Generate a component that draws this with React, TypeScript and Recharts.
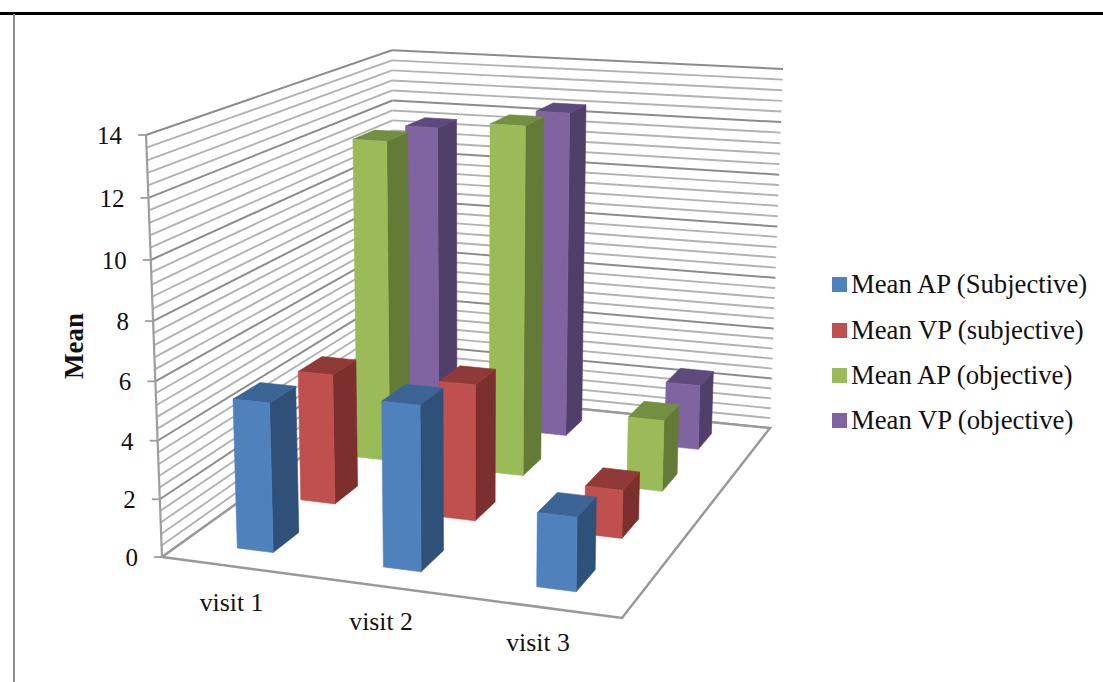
import React from 'react';
import { BarChart, Bar, XAxis, YAxis, Legend } from 'recharts';

const visits = ['visit 1', 'visit 2', 'visit 3'];
const meanApSubjective = [5.15, 5.6, 2.48];
const meanVpSubjective = [4.7, 4.85, 1.7];
const meanApObjective = [12.0, 12.85, 2.63];
const meanVpObjective = [11.65, 12.5, 2.5];
const yTicks = [0, 2, 4, 6, 8, 10, 12, 14];
const yMax = 14;
const minorStep = 0.4;

const rows = visits.map((visit, i) => ({
  visit,
  apSubjective: meanApSubjective[i],
  vpSubjective: meanVpSubjective[i],
  apObjective: meanApObjective[i],
  vpObjective: meanVpObjective[i],
}));

// Painted back to front, so the rows nearest the viewer cover the ones behind.
const seriesDefs = [
  { key: 'vpObjective', name: 'Mean VP (objective)', row: 3, front: '#8064A2', top: '#5F4A7C', side: '#513E69' },
  { key: 'apObjective', name: 'Mean AP (objective)', row: 2, front: '#9BBB59', top: '#748E42', side: '#647A37' },
  { key: 'vpSubjective', name: 'Mean VP (subjective)', row: 1, front: '#C0504D', top: '#8F3A38', side: '#7C2F2D' },
  { key: 'apSubjective', name: 'Mean AP (Subjective)', row: 0, front: '#4F81BD', top: '#3C6494', side: '#2F5179' },
];
const legendOrder = ['Mean AP (Subjective)', 'Mean VP (subjective)', 'Mean AP (objective)', 'Mean VP (objective)'];

const CHART_W = 1103;
const CHART_H = 682;
const PLOT_LEFT = 146;
const PLOT_TOP = 135;
const PLOT_BOTTOM = 557;
const PLOT_W = 600;
const PLOT_H = PLOT_BOTTOM - PLOT_TOP;
const BAR_SIZE = 50;
const ROW_COUNT = 4;
const ROW_FRONT = 0.0475;
const ROW_DEPTH = 0.1;
const FONT = '"Liberation Serif", serif';

// Floor corners of the box and the vanishing point of its vertical edges.
const floor = [
  [162, 557],
  [622, 618],
  [770, 428],
  [395, 390],
];
const vanish = [470, 8700];

const sx = floor[0][0] - floor[1][0] + floor[2][0] - floor[3][0];
const sy = floor[0][1] - floor[1][1] + floor[2][1] - floor[3][1];
const dx1 = floor[1][0] - floor[2][0];
const dx2 = floor[3][0] - floor[2][0];
const dy1 = floor[1][1] - floor[2][1];
const dy2 = floor[3][1] - floor[2][1];
const det = dx1 * dy2 - dx2 * dy1;
const g = (sx * dy2 - dx2 * sy) / det;
const h = (dx1 * sy - sx * dy1) / det;
const a = floor[1][0] - floor[0][0] + g * floor[1][0];
const b = floor[3][0] - floor[0][0] + h * floor[3][0];
const d = floor[1][1] - floor[0][1] + g * floor[1][1];
const e = floor[3][1] - floor[0][1] + h * floor[3][1];
const lift = (PLOT_TOP - floor[0][1]) / (vanish[1] - PLOT_TOP);

// u runs along the categories, v into the depth rows, w up the value axis (all 0..1).
function project(u: number, v: number, w: number): [number, number] {
  const s = g * u + h * v + 1 + w * lift;
  return [
    (a * u + b * v + floor[0][0] + w * lift * vanish[0]) / s,
    (d * u + e * v + floor[0][1] + w * lift * vanish[1]) / s,
  ];
}

const pts = (list: [number, number][]) => list.map((p) => `${p[0].toFixed(1)},${p[1].toFixed(1)}`).join(' ');

function line(p: [number, number], q: [number, number], stroke: string, width: number) {
  return <line x1={p[0]} y1={p[1]} x2={q[0]} y2={q[1]} stroke={stroke} strokeWidth={width} />;
}

function Walls() {
  const count = Math.round(yMax / minorStep);
  const levels = Array.from({ length: count + 1 }, (_, i) => i * minorStep);
  return (
    <g>
      {levels.map((val, i) => {
        const w = val / yMax;
        const major = i % 5 === 0;
        const stroke = major ? '#8C8C8C' : '#B2B2B2';
        const width = major ? 2 : 1.9;
        return (
          <g key={i}>
            {line(project(0, 0, w), project(0, 1, w), stroke, width)}
            {line(project(0, 1, w), project(1, 1, w), stroke, width)}
          </g>
        );
      })}
      <polygon points={pts([project(0, 0, 0), project(1, 0, 0), project(1, 1, 0), project(0, 1, 0)])} fill="#FFFFFF" stroke="#999999" strokeWidth={2.5} />
      {line(project(0, 0, 0), project(0, 0, 1), '#9E9E9E', 2.2)}
    </g>
  );
}

function Prism(props: any) {
  const { x, width, height, row, colors } = props;
  const u0 = (x - PLOT_LEFT) / PLOT_W;
  const u1 = (x + width - PLOT_LEFT) / PLOT_W;
  const w = height / PLOT_H;
  const v0 = (row + 0.5) / ROW_COUNT - ROW_FRONT;
  const v1 = v0 + ROW_DEPTH;
  return (
    <g strokeWidth={0.6} strokeLinejoin="round">
      <polygon points={pts([project(u1, v0, 0), project(u1, v1, 0), project(u1, v1, w), project(u1, v0, w)])} fill={colors.side} stroke={colors.side} />
      <polygon points={pts([project(u0, v0, w), project(u1, v0, w), project(u1, v1, w), project(u0, v1, w)])} fill={colors.top} stroke={colors.top} />
      <polygon points={pts([project(u0, v0, 0), project(u1, v0, 0), project(u1, v0, w), project(u0, v0, w)])} fill={colors.front} stroke={colors.front} />
    </g>
  );
}

function ValueTick(props: any) {
  const { y, payload } = props;
  const p = project(0, 0, (PLOT_BOTTOM - y) / PLOT_H);
  return (
    <g>
      {line([p[0] - 8, p[1]], p, '#9E9E9E', 1.8)}
      <text x={p[0] - 24} y={p[1] + 9} textAnchor="end" fontFamily={FONT} fontSize={25} fill="#111">
        {payload.value}
      </text>
    </g>
  );
}

function CategoryTick(props: any) {
  const { x, payload } = props;
  const p = project((x - PLOT_LEFT) / PLOT_W, 0, 0);
  return (
    <text x={p[0] - 2.5} y={p[1] + 44} textAnchor="middle" fontFamily={FONT} fontSize={25.8} fill="#111">
      {payload.value}
    </text>
  );
}

function LegendList(props: any) {
  const byName = new Map((props.payload || []).map((item: any) => [item.value, item]));
  return (
    <div>
      {legendOrder.map((name) => {
        const item: any = byName.get(name);
        return (
          <div key={name} style={{ height: 45.4, display: 'flex', alignItems: 'center', fontFamily: FONT, fontSize: 26.7, color: '#111', whiteSpace: 'nowrap' }}>
            <span style={{ width: 15, height: 15, background: item ? item.color : undefined, marginRight: 4, flex: 'none' }} />
            {name}
          </div>
        );
      })}
    </div>
  );
}

export default function App() {
  return (
    <div style={{ position: 'absolute', left: 0, top: 0, width: CHART_W, height: CHART_H, background: '#fff', overflow: 'hidden' }}>
      <div style={{ position: 'absolute', left: 0, top: 12, width: CHART_W, height: 2.5, background: '#000' }} />
      <div style={{ position: 'absolute', left: 13, top: 14, width: 2, height: CHART_H - 14, background: '#8E8E8E' }} />
      <BarChart
        width={CHART_W}
        height={CHART_H}
        data={rows}
        margin={{ top: PLOT_TOP, bottom: CHART_H - PLOT_BOTTOM - 1, left: 0, right: CHART_W - PLOT_LEFT - PLOT_W }}
        barSize={BAR_SIZE}
        barGap={-BAR_SIZE}
      >
        <Walls />
        <XAxis dataKey="visit" height={1} axisLine={false} tickLine={false} interval={0} tick={CategoryTick} />
        <YAxis
          width={PLOT_LEFT}
          domain={[0, yMax]}
          ticks={yTicks}
          interval={0}
          axisLine={false}
          tickLine={false}
          tick={ValueTick}
          label={{ value: 'Mean', angle: -90, position: 'insideLeft', offset: 73, style: { textAnchor: 'middle', fontFamily: FONT, fontWeight: 'bold', fontSize: 27, fill: '#111' } }}
        />
        <Legend
          layout="vertical"
          align="center"
          verticalAlign="middle"
          wrapperStyle={{ left: 832, top: 262, width: 271 }}
          content={LegendList}
        />
        {seriesDefs.map((s) => (
          <Bar
            key={s.key}
            dataKey={s.key}
            name={s.name}
            fill={s.front}
            isAnimationActive={false}
            shape={(p: any) => <Prism {...p} row={s.row} colors={s} />}
          />
        ))}
      </BarChart>
    </div>
  );
}
